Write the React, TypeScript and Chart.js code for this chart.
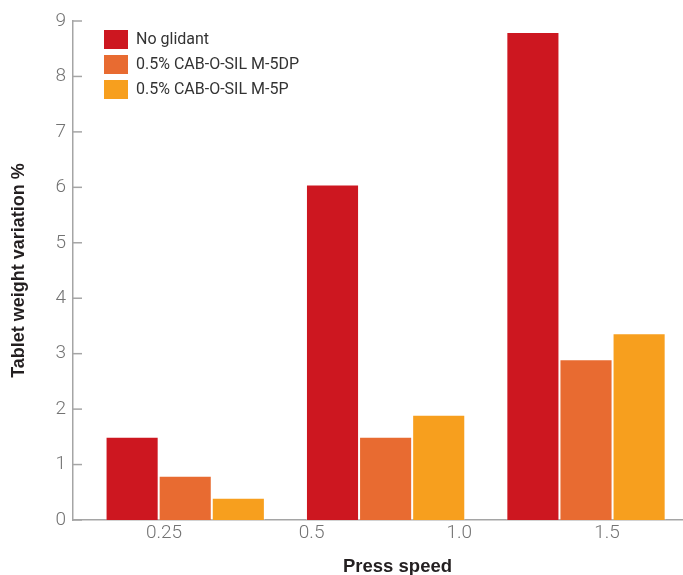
import React, { useEffect, useRef } from 'react';
import { Chart, registerables } from 'chart.js';

Chart.register(...registerables);

// ---- data ----
const seriesNames = ['No glidant', '0.5% CAB-O-SIL M-5DP', '0.5% CAB-O-SIL M-5P'];
const seriesColors = ['#cd1720', '#e86b31', '#f79f1e'];
const groupPositions = [0, 1, 2];
const noGlidant = [1.5, 6.05, 8.8];
const m5dp = [0.8, 1.5, 2.9];
const m5p = [0.4, 1.9, 3.37];
const speedLabels = ['0.25', '0.5', '1.0', '1.5'];
const yMin = 0;
const yMax = 9;
const yStep = 1;
const xTitle = 'Press speed';
const yTitle = 'Tablet weight variation %';

const FONT = "Roboto, 'DejaVu Sans', sans-serif";
const TITLE_FONT = "'Liberation Sans', Arial, Helvetica, sans-serif";
const AXIS_COLOR = '#a5a5a5';
const TICK_COLOR = '#737373';

const chartTweaks = {
  id: 'chartTweaks',
  afterLayout(chart: any) {
    const lg = chart.legend;
    if (lg) {
      const w = lg.width;
      lg.left = 98;
      lg.right = 98 + w;
      lg.top = 24;
      lg.bottom = 24 + 300;
    }
    const tb = chart.titleBlock;
    if (tb) {
      tb.left += 54;
      tb.right += 54;
    }
  },
  afterDraw(chart: any) {
    const y = chart.scales.y;
    const { ctx, chartArea } = chart;
    ctx.save();
    ctx.strokeStyle = AXIS_COLOR;
    ctx.lineWidth = 1.5;
    y.ticks.forEach((_t: any, i: number) => {
      const py = y.getPixelForTick(i);
      ctx.beginPath();
      ctx.moveTo(chartArea.left, py);
      ctx.lineTo(chartArea.left + 9, py);
      ctx.stroke();
    });
    ctx.restore();
  },
};

export default function App() {
  const ref = useRef<HTMLCanvasElement | null>(null);

  useEffect(() => {
    document.body.style.margin = '0';
    const canvas = ref.current;
    if (!canvas) return;
    const series = [noGlidant, m5dp, m5p];
    const chart = new Chart(canvas, {
      type: 'bar',
      data: {
        datasets: series.map((vals, si) => ({
          label: seriesNames[si],
          data: vals.map((v, i) => ({ x: groupPositions[i], y: v })),
          backgroundColor: seriesColors[si],
          borderColor: 'rgba(255,255,255,0.35)',
          borderWidth: 1,
          categoryPercentage: 0.795,
          barPercentage: 1,
        })),
      },
      options: {
        responsive: false,
        animation: false,
        devicePixelRatio: 1,
        layout: { padding: { left: 4, top: 21, right: 0, bottom: 0 } },
        plugins: {
          legend: {
            position: 'chartArea' as any,
            align: 'start',
            fullSize: false,
            labels: {
              boxWidth: 24,
              boxHeight: 19,
              padding: 6,
              color: '#333333',
              font: { family: FONT, size: 16 },
              generateLabels: (c: any) =>
                (Chart.defaults.plugins.legend.labels.generateLabels as any)(c).map((l: any) => ({ ...l, lineWidth: 0 })),
            },
          },
          title: {
            display: true,
            position: 'bottom',
            text: xTitle,
            color: '#231f20',
            font: { family: TITLE_FONT, size: 18.5, weight: 'bold' },
            padding: { top: 10, bottom: -3 },
          },
          tooltip: { enabled: false },
        },
        scales: {
          x: {
            type: 'linear',
            position: 'bottom',
            offset: false,
            bounds: 'data',
            min: -0.56,
            max: 2.484,
            afterBuildTicks: (s: any) => {
              s.ticks = groupPositions.map((v) => ({ value: v }));
            },
            ticks: { display: false },
            grid: { display: false, drawTicks: false, tickLength: 0, offset: false },
            border: { display: true, color: AXIS_COLOR, width: 1.5 },
          },
          x2: {
            type: 'linear',
            position: 'bottom',
            offset: false,
            bounds: 'data',
            min: -0.616,
            max: 3.515,
            afterBuildTicks: (s: any) => {
              s.ticks = speedLabels.map((_l, i) => ({ value: i }));
            },
            ticks: {
              padding: 1.5,
              maxRotation: 0,
              autoSkip: false,
              color: TICK_COLOR,
              font: { family: FONT, size: 19, weight: '300' },
              callback: (v: any) => speedLabels[Math.round(Number(v))] ?? '',
            },
            grid: { display: false, drawTicks: false, tickLength: 0, offset: false },
            border: { display: false },
          },
          y: {
            type: 'linear',
            min: yMin,
            max: yMax,
            ticks: {
              stepSize: yStep,
              padding: 7,
              color: TICK_COLOR,
              font: { family: FONT, size: 19, weight: '300' },
            },
            grid: { display: false, drawTicks: false, tickLength: 0 },
            border: { display: true, color: AXIS_COLOR, width: 1.5 },
            title: {
              display: true,
              text: yTitle,
              color: '#231f20',
              font: { family: TITLE_FONT, size: 18, weight: 'bold' },
              padding: { top: 4, bottom: 0 },
            },
            afterFit: (s: any) => {
              s.width = 69;
            },
          },
        },
      } as any,
      plugins: [chartTweaks],
    });
    return () => chart.destroy();
  }, []);

  return (
    <div style={{ position: 'absolute', left: 0, top: 0, width: 683, height: 575 }}>
      <canvas ref={ref} width={683} height={575} style={{ display: 'block' }} />
    </div>
  );
}
